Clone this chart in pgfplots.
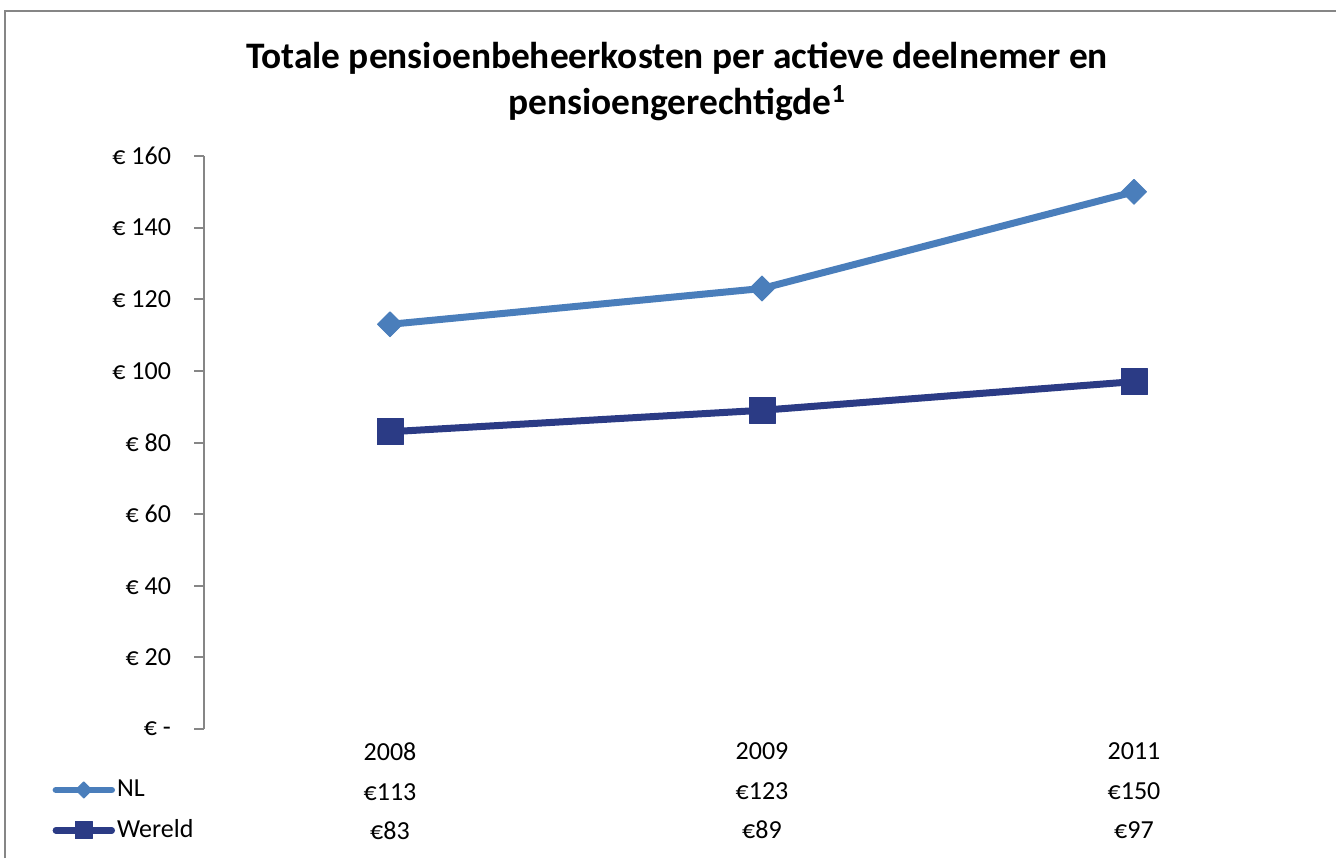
\documentclass[border=0pt]{standalone}
\usepackage{pgfplots}
\pgfplotsset{compat=1.18}
\usepackage{fontspec}
\setmainfont{Carlito}
\definecolor{nl}{HTML}{4A7EBB}
\definecolor{wereld}{HTML}{2B3B85}
\definecolor{bordergray}{HTML}{868686}
\begin{document}
\begin{tikzpicture}
\path[use as bounding box] (0,0) rectangle (668pt,429pt);
\draw[bordergray, line width=1pt] (2.5pt,0) -- (2.5pt,423.5pt) -- (668pt,423.5pt);
\node[align=center, font=\fontsize{18.7}{23}\selectfont\bfseries] at (338.5pt,388pt) {Totale pensioenbeheerkosten per actieve deelnemer en\\pensioengerechtigde\textsuperscript{1}};
\begin{axis}[
  at={(102pt,64.5pt)}, anchor=south west, scale only axis,
  width=558pt, height=286.5pt,
  xmin=-0.5, xmax=2.5, ymin=0, ymax=160,
  axis y line*=left, axis x line*=bottom,
  x axis line style={draw=none},
  y axis line style={-, draw=bordergray, line width=1pt},
  ytick={0,20,...,160},
  yticklabels={€ -, € 20, € 40, € 60, € 80, € 100, € 120, € 140, € 160},
  ytick style={draw=bordergray, line width=1pt},
  tick align=outside, major tick length=5pt,
  yticklabel style={font=\fontsize{13}{15}\selectfont, anchor=east, xshift=-8pt},
  xtick={0,1,2}, xtick style={draw=none},
  xticklabels={{2008\\€113\\€83},{2009\\€123\\€89},{2011\\€150\\€97}},
  xticklabel style={align=center, font=\fontsize{13}{19.7}\selectfont, yshift=1.5pt},
  legend style={draw=none, fill=none, at={(axis description cs:-0.136,-0.085)}, anchor=north west,
    font=\fontsize{13}{15}\selectfont, row sep=8pt, inner sep=0pt,
    nodes={inner sep=1pt}},
  legend cell align=left,
  legend image code/.code={\draw[#1, line cap=round, line width=3.2pt, mark repeat=2, mark phase=2, /tikz/every mark/.append style={scale=0.65}] plot coordinates {(0pt,0pt)(14pt,0pt)(28pt,0pt)};},
  clip=false,
]
\addplot[nl, line width=3.5pt, line join=round, mark=square*, mark size=4.4pt, mark options={rotate=45, line width=0.5pt}] coordinates {(0,113)(1,123)(2,150)};
\addlegendentry{NL}
\addplot[wereld, line width=3.5pt, line join=round, mark=square*, mark size=6.5pt, mark options={line width=0.5pt}] coordinates {(0,83)(1,89)(2,97)};
\addlegendentry{Wereld}
\end{axis}
\end{tikzpicture}
\end{document}
